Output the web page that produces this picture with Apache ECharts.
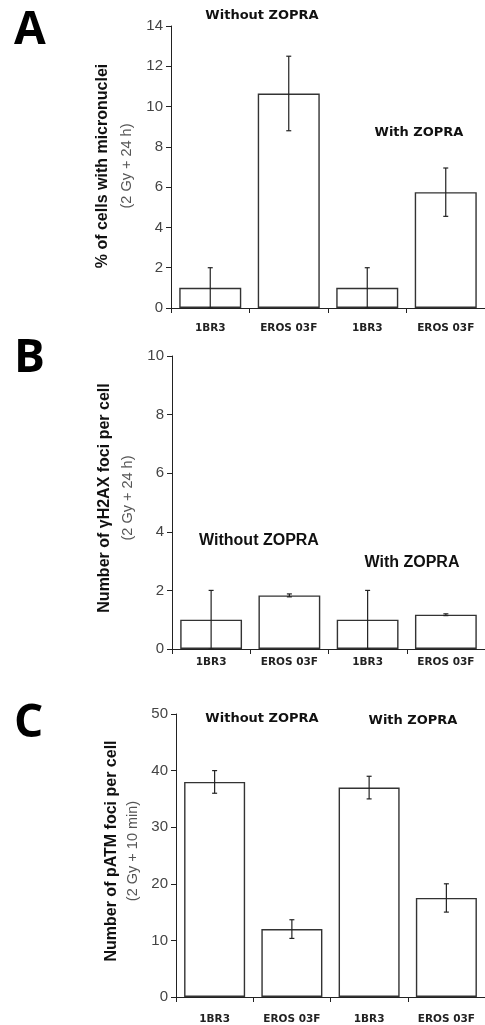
<!DOCTYPE html>
<html>
<head>
<meta charset="utf-8">
<title>ZOPRA panels</title>
<script src="https://cdn.jsdelivr.net/npm/echarts@6/dist/echarts.min.js"></script>
<style>
    html, body { margin: 0; padding: 0; background: #fff; }
    #chart { width: 485px; height: 1025px; }
</style>
</head>
<body>
<div id="chart"></div>
<script>
// 横轴类别
const categories = ['1BR3', 'EROS 03F', '1BR3', 'EROS 03F'];

// A: 微核细胞百分比
const microValues = [1, 10.65, 1, 5.75];
const microErrors = [1, 1.85, 1, 1.2];
const microTicks = [0, 14, 2];

// B: γH2AX 焦点
const h2axValues = [1, 1.83, 1, 1.17];
const h2axErrors = [1, 0.05, 1, 0.03];
const h2axTicks = [0, 10, 2];

// C: pATM 焦点
const patmValues = [38, 12, 37, 17.5];
const patmErrors = [2, 1.65, 2, 2.5];
const patmTicks = [0, 50, 10];

const panels = [
    { letter: 'A', values: microValues, errors: microErrors, ticks: microTicks,
      grid: { left: 171, top: 26, width: 315, height: 282 }, labelMargin: 15,
      title: '% of cells with micronuclei', sub: '(2 Gy + 24 h)',
      titleX: 103, subX: 127, titleY: 166, letterY: 29,
      notes: [['Without ZOPRA', 262, 16], ['With ZOPRA', 419, 133]], noteFont: 'spaced' },
    { letter: 'B', values: h2axValues, errors: h2axErrors, ticks: h2axTicks,
      grid: { left: 172, top: 356, width: 318, height: 293 }, labelMargin: 8,
      title: 'Number of \u03b3H2AX foci per cell', sub: '(2 Gy + 24 h)',
      titleX: 105, subX: 128, titleY: 498, letterY: 357,
      notes: [['Without ZOPRA', 259, 541], ['With ZOPRA', 412, 563]], noteFont: 'plain' },
    { letter: 'C', values: patmValues, errors: patmErrors, ticks: patmTicks,
      grid: { left: 176, top: 714, width: 316, height: 283 }, labelMargin: 17,
      title: 'Number of pATM foci per cell', sub: '(2 Gy + 10 min)',
      titleX: 112, subX: 133, titleY: 851, letterY: 722,
      notes: [['Without ZOPRA', 262, 719], ['With ZOPRA', 413, 721]], noteFont: 'spaced' }
];

const chart = echarts.init(document.getElementById('chart'));

const grids = [], xAxes = [], yAxes = [], series = [], graphics = [];

panels.forEach((p, i) => {
    grids.push(p.grid);

    xAxes.push({
        type: 'category',
        gridIndex: i,
        data: categories,
        axisLine: { lineStyle: { color: '#222', width: 1 } },
        axisTick: { show: true, length: 5, interval: 0, lineStyle: { color: '#222' } },
        axisLabel: {
            interval: 0,
            margin: p.labelMargin,
            color: '#222',
            fontFamily: 'DejaVu Sans',
            fontWeight: 'bold',
            fontSize: 10.5
        }
    });

    yAxes.push({
        type: 'value',
        gridIndex: i,
        min: p.ticks[0],
        max: p.ticks[1],
        interval: p.ticks[2],
        splitLine: { show: false },
        axisLine: { show: true, lineStyle: { color: '#222', width: 1 } },
        axisTick: { show: true, length: 5, lineStyle: { color: '#222' } },
        axisLabel: {
            margin: 8,
            color: '#444',
            fontFamily: 'Liberation Sans',
            fontSize: 15
        }
    });

    series.push({
        type: 'bar',
        xAxisIndex: i,
        yAxisIndex: i,
        data: p.values,
        barWidth: '79%',
        itemStyle: { color: '#fff', borderColor: '#333', borderWidth: 1.4 },
        silent: true
    });

    // 误差线
    series.push({
        type: 'custom',
        xAxisIndex: i,
        yAxisIndex: i,
        z: 5,
        silent: true,
        data: p.values.map((v, k) => [k, v - p.errors[k], v + p.errors[k]]),
        renderItem: function (params, api) {
            const lo = api.coord([api.value(0), api.value(1)]);
            const hi = api.coord([api.value(0), api.value(2)]);
            const cap = 2.5;
            const style = { stroke: '#222', lineWidth: 1.2 };
            return {
                type: 'group',
                children: [
                    { type: 'line', shape: { x1: hi[0], y1: hi[1], x2: lo[0], y2: lo[1] }, style: style },
                    { type: 'line', shape: { x1: hi[0] - cap, y1: hi[1], x2: hi[0] + cap, y2: hi[1] }, style: style },
                    { type: 'line', shape: { x1: lo[0] - cap, y1: lo[1], x2: lo[0] + cap, y2: lo[1] }, style: style }
                ]
            };
        }
    });

    // 面板字母
    graphics.push({
        type: 'text',
        left: 14,
        top: p.letterY - 21,
        style: {
            text: p.letter,
            fontFamily: 'Open Sans',
            fontWeight: 'bold',
            fontSize: 46,
            fill: '#000',
            verticalAlign: 'top'
        }
    });

    // 纵轴标题（旋转）
    graphics.push({
        type: 'text',
        x: p.titleX,
        y: p.titleY,
        rotation: Math.PI / 2,
        style: {
            text: p.title,
            fontFamily: 'Liberation Sans',
            fontWeight: 'bold',
            fontSize: 16,
            fill: '#111',
            align: 'center',
            verticalAlign: 'middle'
        }
    });
    graphics.push({
        type: 'text',
        x: p.subX,
        y: p.titleY,
        rotation: Math.PI / 2,
        style: {
            text: p.sub,
            fontFamily: 'Liberation Sans',
            fontSize: 14.5,
            fill: '#555',
            align: 'center',
            verticalAlign: 'middle'
        }
    });

    // 组别注释
    p.notes.forEach(n => {
        graphics.push({
            type: 'text',
            x: n[1],
            y: n[2],
            style: {
                text: n[0],
                fontFamily: p.noteFont === 'spaced' ? 'DejaVu Sans' : 'Liberation Sans',
                fontWeight: 'bold',
                fontSize: p.noteFont === 'spaced' ? 13 : 16,
                fill: '#111',
                align: 'center',
                verticalAlign: 'middle'
            }
        });
    });
});

chart.setOption({
    animation: false,
    grid: grids,
    xAxis: xAxes,
    yAxis: yAxes,
    series: series,
    graphic: graphics
});

window.addEventListener('resize', function () {
    chart.resize();
});
</script>
</body>
</html>
